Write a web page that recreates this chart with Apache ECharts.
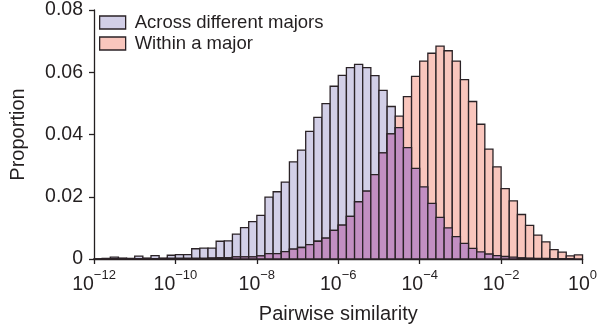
<!DOCTYPE html>
<html>
<head>
<meta charset="utf-8">
<script src="https://cdn.jsdelivr.net/npm/echarts@6/dist/echarts.min.js"></script>
<style>
  html, body { margin: 0; padding: 0; background: #fff; }
  #chart { width: 600px; height: 329px; }
</style>
</head>
<body>
<div id="chart"></div>
<script>
// Histogram bins on log10(similarity): 60 bins of 0.2 decades from 1e-12 to 1e0
const binStartExp = -12;
const binWidthExp = 0.2;
const binCount = 60;

const seriesNames = ['Across different majors', 'Within a major'];
const xTickExps = [-12, -10, -8, -6, -4, -2, 0];
const yTicks = [0, 0.02, 0.04, 0.06, 0.08];

// Proportion of pairs per bin
const acrossMajors = [
  0.0001, 0.0002, 0.0006, 0.0003, 0.0002, 0.0009, 0.0003, 0.0011, 0.0003, 0.0012,
  0.0014, 0.0014, 0.0033, 0.0035, 0.0035, 0.0057, 0.0058, 0.0080, 0.0101, 0.0120,
  0.0140, 0.0199, 0.0216, 0.0247, 0.0312, 0.0350, 0.0410, 0.0455, 0.0499, 0.0555,
  0.0590, 0.0615, 0.0625, 0.0615, 0.0589, 0.0542, 0.0490, 0.0422, 0.0358, 0.0291,
  0.0232, 0.0179, 0.0134, 0.0100, 0.0072, 0.0050, 0.0034, 0.0023, 0.0016, 0.0011,
  0.0008, 0.0006, 0.0004, 0.0003, 0.0002, 0.0002, 0.0001, 0.0001, 0.0001, 0.0000
];
const withinMajor = [
  0.0000, 0.0001, 0.0001, 0.0001, 0.0001, 0.0001, 0.0001, 0.0001, 0.0001, 0.0002,
  0.0002, 0.0002, 0.0002, 0.0002, 0.0003, 0.0004, 0.0004, 0.0007, 0.0007, 0.0007,
  0.0010, 0.0017, 0.0017, 0.0024, 0.0032, 0.0037, 0.0046, 0.0057, 0.0067, 0.0092,
  0.0109, 0.0137, 0.0184, 0.0218, 0.0271, 0.0341, 0.0402, 0.0459, 0.0522, 0.0587,
  0.0636, 0.0661, 0.0684, 0.0669, 0.0636, 0.0576, 0.0506, 0.0433, 0.0353, 0.0296,
  0.0226, 0.0187, 0.0143, 0.0108, 0.0077, 0.0055, 0.0030, 0.0022, 0.0010, 0.0013
];

const COLOR_ACROSS = '#d2cfe7';
const COLOR_WITHIN = '#f9c6bd';
const COLOR_OVERLAP = '#c28fc2';
const EDGE = '#2a2226';
const TEXT = '#231f20';
const FONT = 'Liberation Sans, Arial, sans-serif';

function binData(values) {
  return values.map((v, i) => {
    const lo = binStartExp + i * binWidthExp;
    return [lo, lo + binWidthExp, v];
  });
}

function renderBar(params, api) {
  const lo = api.value(0), hi = api.value(1), v = api.value(2);
  if (!(v > 0)) return null;
  const p0 = api.coord([lo, v]);
  const p1 = api.coord([hi, 0]);
  return {
    type: 'rect',
    shape: { x: p0[0], y: p0[1], width: p1[0] - p0[0], height: p1[1] - p0[1] },
    style: { fill: api.visual('color'), stroke: EDGE, lineWidth: 1.3 }
  };
}

// Region where both histograms overlap
const overlap = acrossMajors.map((a, i) => Math.min(a, withinMajor[i]));

const chart = echarts.init(document.getElementById('chart'), null, { renderer: 'canvas' });
chart.setOption({
  animation: false,
  grid: { left: 83, right: 15, top: 7, bottom: 66, containLabel: false },
  legend: {
    orient: 'vertical',
    left: 94, top: 8,
    itemWidth: 26, itemHeight: 13, itemGap: 2,
    icon: 'rect',
    textStyle: { fontFamily: FONT, fontSize: 18.5, color: TEXT, padding: [0, 0, 0, 4] },
    data: [
      { name: seriesNames[0], itemStyle: { color: COLOR_ACROSS, borderColor: EDGE, borderWidth: 1.3 } },
      { name: seriesNames[1], itemStyle: { color: COLOR_WITHIN, borderColor: EDGE, borderWidth: 1.3 } }
    ]
  },
  xAxis: {
    type: 'value', min: -12, max: 0, interval: 2,
    name: 'Pairwise similarity', nameLocation: 'middle', nameGap: 45,
    nameTextStyle: { fontFamily: FONT, fontSize: 20, color: TEXT },
    axisLine: { onZero: false, lineStyle: { color: TEXT, width: 1.3 } },
    axisTick: { show: true, length: 5, lineStyle: { color: TEXT, width: 1.3 } },
    splitLine: { show: false },
    axisLabel: {
      margin: 10,
      formatter: v => xTickExps.includes(v)
        ? '{b|10}{s|' + (v < 0 ? '\u2212' + (-v) : v) + '}' : '',
      rich: {
        b: { fontFamily: FONT, fontSize: 19.5, color: TEXT, lineHeight: 26, verticalAlign: 'bottom' },
        s: { fontFamily: FONT, fontSize: 13, color: TEXT, lineHeight: 14, verticalAlign: 'top' }
      }
    }
  },
  yAxis: {
    type: 'value', min: 0, max: 0.08, interval: 0.02,
    name: 'Proportion', nameLocation: 'middle', nameGap: 66, nameRotate: 90,
    nameTextStyle: { fontFamily: FONT, fontSize: 20, color: TEXT },
    axisLine: { show: true, onZero: false, lineStyle: { color: TEXT, width: 1.3 } },
    axisTick: { show: true, length: 5, lineStyle: { color: TEXT, width: 1.3 } },
    splitLine: { show: false },
    axisLabel: {
      margin: 11, fontFamily: FONT, fontSize: 19.5, color: TEXT,
      formatter: v => yTicks.includes(+v.toFixed(2)) ? String(+v.toFixed(2)) : ''
    }
  },
  series: [
    { name: seriesNames[0], type: 'custom', color: COLOR_ACROSS, renderItem: renderBar,
      encode: { x: [0, 1], y: 2 }, data: binData(acrossMajors), z: 1 },
    { name: seriesNames[1], type: 'custom', color: COLOR_WITHIN, renderItem: renderBar,
      encode: { x: [0, 1], y: 2 }, data: binData(withinMajor), z: 2 },
    { name: 'overlap', type: 'custom', color: COLOR_OVERLAP, renderItem: renderBar,
      encode: { x: [0, 1], y: 2 }, data: binData(overlap), z: 3 }
  ]
});
</script>
</body>
</html>
